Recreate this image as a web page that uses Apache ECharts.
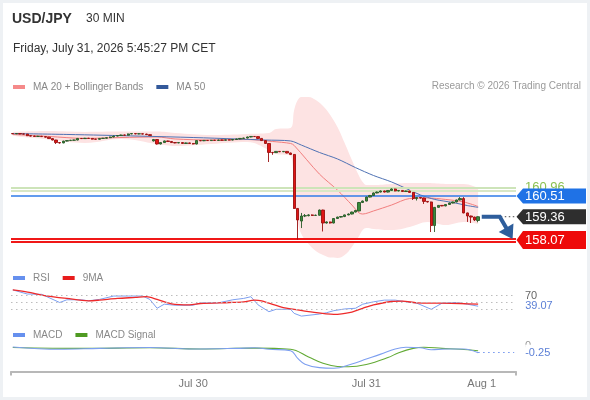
<!DOCTYPE html>
<html><head><meta charset="utf-8">
<script src="https://cdn.jsdelivr.net/npm/echarts@6/dist/echarts.min.js"></script>
<style>
html,body{margin:0;padding:0;background:#fff;}
#c{position:absolute;left:0;top:0;width:590px;height:400px;}
#frame{position:absolute;left:0;top:0;width:590px;height:400px;box-sizing:border-box;border-style:solid;border-color:#eef1f4;border-width:3px 3px 3.5px 3px;pointer-events:none;}
</style></head><body>
<div id="c"></div><div id="frame"></div>
<script>
// ---------------- DATA ----------------
const titleText = 'USD/JPY';
const timeframeText = '30 MIN';
const dateText = 'Friday, July 31, 2026 5:45:27 PM CET';
const creditText = 'Research \u00A9 2026 Trading Central';

const slotCount = 140;                      // half-hour slots on the axis
const tickIndex = [50, 98, 130];
const tickLabels = ['Jul 30', 'Jul 31', 'Aug 1'];

const opens = [
163.98,163.97,163.98,163.96,163.95,163.86,163.84,163.82,163.83,163.81,
163.78,163.70,163.62,163.48,163.46,163.56,163.59,163.61,163.62,163.71,
163.70,163.72,163.71,163.67,163.66,163.71,163.72,163.75,163.79,163.84,
163.87,163.90,163.89,163.96,163.98,163.96,163.97,163.95,163.92,163.57,
163.65,163.40,163.48,163.57,163.54,163.48,163.46,163.48,163.43,163.46,
163.43,163.40,163.59,163.58,163.60,163.59,163.61,163.60,163.62,163.61,
163.63,163.62,163.65,163.68,163.71,163.73,163.79,163.82,163.81,163.71,
163.59,163.43,162.93,162.92,162.99,162.97,162.99,162.90,162.82,159.82,
159.12,159.40,159.42,159.46,159.43,159.44,159.73,159.01,159.07,159.01,
159.26,159.34,159.37,159.46,159.51,159.62,159.68,160.15,160.23,160.45,
160.54,160.68,160.73,160.79,160.73,160.82,160.90,160.79,160.82,160.76,
160.79,160.71,160.37,160.43,160.40,160.21,160.18,158.87,159.88,159.99,
159.96,160.04,160.12,160.18,160.29,160.37,159.57,159.40,159.34,159.15];
const closes = [
163.97,163.98,163.96,163.95,163.86,163.84,163.82,163.83,163.81,163.78,
163.70,163.62,163.48,163.46,163.56,163.59,163.61,163.62,163.71,163.70,
163.72,163.71,163.67,163.66,163.71,163.72,163.75,163.79,163.84,163.87,
163.90,163.89,163.96,163.98,163.96,163.97,163.95,163.92,163.87,163.65,
163.40,163.48,163.57,163.54,163.48,163.46,163.48,163.43,163.46,163.43,
163.40,163.59,163.58,163.60,163.59,163.61,163.60,163.62,163.61,163.63,
163.62,163.65,163.68,163.71,163.73,163.79,163.82,163.81,163.71,163.59,
163.43,162.93,162.92,162.99,162.97,162.99,162.90,162.82,159.82,159.18,
159.40,159.42,159.46,159.43,159.44,159.73,159.01,159.07,159.01,159.26,
159.34,159.37,159.46,159.51,159.62,159.71,160.15,160.23,160.45,160.54,
160.68,160.73,160.79,160.73,160.82,160.90,160.79,160.82,160.76,160.79,
160.71,160.37,160.43,160.40,160.21,160.18,158.87,159.88,159.99,159.96,
160.04,160.12,160.18,160.29,160.37,159.57,159.40,159.34,159.18,159.36];
const lows = [
163.95,163.95,163.94,163.93,163.84,163.82,163.80,163.80,163.79,163.76,
163.68,163.60,163.40,163.42,163.44,163.54,163.57,163.59,163.60,163.68,
163.68,163.69,163.65,163.64,163.64,163.69,163.70,163.73,163.77,163.82,
163.85,163.87,163.87,163.94,163.94,163.94,163.93,163.90,163.85,163.54,
163.37,163.38,163.46,163.52,163.46,163.44,163.44,163.41,163.41,163.41,
163.38,163.38,163.56,163.56,163.57,163.57,163.58,163.58,163.59,163.59,
163.60,163.60,163.63,163.66,163.69,163.71,163.77,163.79,163.69,163.57,
163.40,162.40,162.80,162.90,162.95,162.95,162.88,162.79,159.79,158.09,
158.73,159.34,159.38,159.40,159.40,159.42,158.54,158.98,158.98,158.99,
159.24,159.31,159.34,159.44,159.49,159.60,159.66,160.12,160.21,160.43,
160.52,160.66,160.71,160.71,160.71,160.80,160.77,160.77,160.74,160.74,
160.69,160.29,160.26,160.37,160.07,160.15,158.51,158.51,159.86,159.94,
159.94,160.02,160.10,160.16,160.27,159.55,159.07,159.01,159.12,159.05];
const highs = [
164.00,164.00,164.00,163.98,163.96,163.88,163.86,163.85,163.85,163.83,
163.80,163.72,163.63,163.50,163.58,163.61,163.63,163.64,163.73,163.73,
163.74,163.74,163.73,163.69,163.73,163.74,163.77,163.81,163.86,163.89,
163.92,163.92,163.98,164.00,164.00,163.99,163.99,163.97,163.94,163.68,
163.66,163.50,163.59,163.59,163.56,163.50,163.50,163.50,163.48,163.48,
163.45,163.61,163.61,163.62,163.62,163.63,163.63,163.64,163.64,163.65,
163.65,163.67,163.70,163.73,163.75,163.81,163.84,163.84,163.83,163.72,
163.61,163.45,162.96,163.01,163.01,163.01,163.01,162.92,162.84,159.84,
159.57,159.51,159.50,159.49,159.48,159.76,159.75,159.10,159.09,159.28,
159.36,159.40,159.48,159.54,159.64,159.73,160.18,160.26,160.48,160.57,
160.71,160.76,160.82,160.81,160.84,160.93,160.92,160.84,160.84,160.81,
160.81,160.73,160.45,160.45,160.42,160.23,160.20,159.90,160.01,160.01,
160.06,160.14,160.20,160.31,160.45,160.45,159.59,159.42,159.36,159.38];

// [slot, value] readings of the indicator lines
const ma20 = [[0,163.93],[10,163.82],[20,163.71],[30,163.76],[40,163.79],[45,163.68],[55,163.62],[65,163.65],[72,163.54],[77,163.43],[78,163.32],[85,161.73],[90,160.84],[94,160.01],[96,159.57],[97,159.51],[100,159.68],[105,160.01],[110,160.37],[115,160.40],[120,160.32],[125,160.18],[129,159.93]];
const ma50 = [[0,163.98],[15,163.93],[35,163.84],[50,163.76],[62,163.68],[70,163.62],[77,163.57],[80,163.34],[85,162.93],[90,162.57],[95,162.09],[100,161.65],[105,161.29],[110,160.84],[113,160.57],[117,160.32],[122,160.15],[126,159.98],[129,159.88]];
const bbSlots = [0,10,20,30,40,45,55,65,71,73,77,78,79,80,82,84,86,88,90,92,94,96,97,98,100,105,110,115,120,125,129];
const bbUpper = [164.07,164.12,164.07,164.09,164.09,164.01,163.90,163.96,164.01,164.23,164.29,165.29,165.84,166.01,166.01,165.84,165.51,165.01,164.34,163.45,162.51,161.62,161.29,161.12,161.12,161.18,161.23,161.23,161.18,161.18,160.96];
const bbLower = [163.84,163.65,163.46,163.68,163.40,163.29,163.40,163.51,163.07,162.84,162.73,160.57,159.07,158.40,157.84,157.45,157.23,157.09,157.07,157.23,157.68,158.29,158.62,158.73,158.68,158.62,158.79,159.07,158.90,159.07,158.96];

const rsi = [[0,87],[4,75],[8,74],[13,50],[15,58],[19,58],[21,55],[24,59],[28,69],[32,69],[36,69],[38,59],[40,33],[42,45],[45,42],[50,42],[52,49],[57,49],[61,58],[64,62],[66,67],[67,55],[68,43],[71,23],[73,30],[77,30],[78,18],[80,10],[85,16],[87,20],[89,26],[92,31],[95,33],[97,45],[100,52],[103,57],[106,57],[109,52],[112,48],[116,30],[119,48],[123,50],[126,45],[129,39.07]];
const rsiMa = [[0,87],[5,79],[8,72],[15,62],[21,55],[24,57],[29,62],[34,65],[37,67],[40,59],[44,46],[49,43],[52,47],[60,50],[64,52],[67,57],[69,55],[71,48],[75,35],[78,30],[82,23],[89,15],[94,22],[97,33],[100,43],[105,53],[108,54],[112,49],[119,48],[124,47],[129,45]];
const rsiLevels = [70, 50, 30];
const macd = [[0,-0.05],[13,-0.13],[24,-0.10],[38,-0.07],[50,-0.12],[62,-0.10],[67,-0.08],[71,-0.13],[77,-0.18],[79,-0.45],[81,-0.65],[85,-0.77],[89,-0.79],[94,-0.64],[98,-0.47],[102,-0.30],[106,-0.12],[109,-0.06],[113,-0.08],[116,-0.15],[120,-0.12],[125,-0.12],[129,-0.25]];
const macdSignal = [[0,-0.07],[20,-0.10],[38,-0.08],[52,-0.12],[67,-0.09],[77,-0.13],[82,-0.40],[86,-0.62],[90,-0.73],[93,-0.74],[98,-0.66],[104,-0.42],[107,-0.25],[111,-0.10],[114,-0.06],[119,-0.10],[124,-0.13],[129,-0.18]];

const resistanceLevels = [160.96, 160.81];
const pivotLevel = 160.51;
const targetLevel = 158.07;
const tagValues = [160.51, 159.36, 158.07];

// ---------------- STYLE / BUILD ----------------
const FONT = '"Liberation Sans", Arial, Helvetica, sans-serif';
const tagFill = ['#1f72e6', '#2e2e2e', '#ee0a0a'];
const tagHeight = [15, 15, 18];
const HIDDEN = 'rgba(0,0,0,0)';
const categories = Array.from({length: slotCount}, (_, i) => 's' + i);
const labelAt = {};
tickIndex.forEach((k, j) => { labelAt[k] = tickLabels[j]; });
const candles = opens.map((o, i) => [o, closes[i], lows[i], highs[i]]);
const lastIdx = closes.length - 1;
const lastClose = closes[lastIdx];
const bbBase = bbSlots.map((s, i) => [s, bbLower[i]]);
const bbWidth = bbSlots.map((s, i) => [s, +(bbUpper[i] - bbLower[i]).toFixed(4)]);
const lastRsi = rsi[rsi.length - 1];
const lastMacd = macd[macd.length - 1];

const legendIcon = 'path://M0,0H12V4H0ZM15,0H15.01V0.01H15Z';
const legendCommon = {
  padding: 0, itemWidth: 15, itemHeight: 4, itemGap: 13, icon: legendIcon, selectedMode: false,
  textStyle: {color: '#888', fontSize: 10, fontFamily: FONT}
};

const chart = echarts.init(document.getElementById('c'), null, {renderer: 'canvas'});
const option = {
  animation: false,
  backgroundColor: '#fff',
  textStyle: {fontFamily: FONT},
  graphic: [
    {type: 'text', x: 12, y: 19, style: {text: titleText, font: 'bold 14px ' + FONT, fill: '#333', verticalAlign: 'middle'}},
    {type: 'text', x: 86, y: 19, style: {text: timeframeText, font: '12px ' + FONT, fill: '#333', verticalAlign: 'middle'}},
    {type: 'text', x: 13, y: 48.3, style: {text: dateText, font: '12px ' + FONT, fill: '#333', verticalAlign: 'middle'}},
    {type: 'text', x: 581, y: 86, style: {text: creditText, font: '10px ' + FONT, fill: '#9a9a9a', align: 'right', verticalAlign: 'middle'}}
  ],
  legend: [
    Object.assign({}, legendCommon, {data: ['MA 20 + Bollinger Bands', 'MA 50'], left: 13, top: 82}),
    Object.assign({}, legendCommon, {data: ['RSI', '9MA'], left: 13, top: 273}),
    Object.assign({}, legendCommon, {data: ['MACD', 'MACD Signal'], left: 13, top: 330})
  ],
  grid: [
    {left: 11, width: 505, top: 93.6, height: 165.6},
    {left: 11, width: 505, top: 285.5, height: 34},
    {left: 11, width: 505, top: 338.3, height: 33.1}
  ],
  xAxis: [0, 1, 2].map(g => ({
    type: 'category', gridIndex: g, data: categories, boundaryGap: true,
    axisLine: {show: g === 2, onZero: false, lineStyle: {color: '#b8b8b8', width: 2}},
    axisTick: {show: g === 2, length: 4, interval: (i) => i === 0, lineStyle: {color: '#b8b8b8', width: 2}},
    axisLabel: {show: g === 2, interval: 0, margin: 7, color: '#777', fontSize: 11, fontFamily: FONT,
      formatter: (v, i) => labelAt[i] || ''},
    splitLine: {show: false}
  })),
  yAxis: [
    {gridIndex: 0, type: 'value', min: 157, max: 166.2, show: false},
    {gridIndex: 1, type: 'value', min: 0, max: 100, show: false},
    {gridIndex: 2, type: 'value', min: -0.9, max: 0.25, show: false}
  ],
  series: [
    {type: 'line', name: 'bbBase', data: bbBase, stack: 'bb', smooth: 0.4, symbol: 'none', silent: true,
      lineStyle: {opacity: 0}, z: 1},
    {type: 'line', name: 'bbFill', data: bbWidth, stack: 'bb', smooth: 0.4, symbol: 'none', silent: true,
      lineStyle: {opacity: 0}, areaStyle: {color: '#fde3e3', opacity: 1}, z: 1},
    {type: 'line', name: 'MA 20 + Bollinger Bands', data: ma20, smooth: 0.3, symbol: 'none', color: '#f58a8a',
      lineStyle: {width: 1, color: '#f27e7e'}, z: 3},
    {type: 'line', name: 'MA 50', data: ma50, smooth: 0.3, symbol: 'none', color: '#33599a',
      lineStyle: {width: 1, color: '#4f72b4'}, z: 3,
      markLine: {
        silent: true, symbol: 'none', z: 4, animation: false, label: {show: false},
        data: [
          {yAxis: resistanceLevels[0], lineStyle: {color: '#cde4b9', width: 2, type: 'solid'},
            label: {show: true, position: 'end', distance: 9, formatter: '{c}', color: '#8cc152', fontSize: 13, fontFamily: FONT}},
          {yAxis: resistanceLevels[1], lineStyle: {color: '#d9e7c5', width: 2, type: 'solid'}},
          {yAxis: pivotLevel, lineStyle: {color: '#2f7be8', width: 1.5, type: 'solid'}},
          {yAxis: targetLevel, lineStyle: {color: '#f01818', width: 5, type: 'solid'}},
          {yAxis: targetLevel, lineStyle: {color: '#ffffff', width: 1.2, type: 'solid'}}
        ]
      }},
    {type: 'candlestick', name: 'USD/JPY', data: candles, barWidth: 2.8, z: 10,
      itemStyle: {color: '#3a8a3a', color0: '#e01515', borderColor: '#285a28', borderColor0: '#9a1010', borderWidth: 0.9}},
    {type: 'custom', name: 'tags', data: tagValues.map(v => [0, v]), z: 20, silent: true,
      renderItem: function (params, api) {
        const cs = params.coordSys;
        const right = cs.x + cs.width;
        const v = api.value(1);
        const y = api.coord([0, v])[1];
        const k = params.dataIndex;
        const h = tagHeight[k];
        return {type: 'group', children: [
          {type: 'polygon', shape: {points: [[right + 0.5, y], [right + 7, y - h / 2], [right + 70, y - h / 2], [right + 70, y + h / 2], [right + 7, y + h / 2]]},
            style: {fill: tagFill[k]}},
          {type: 'text', x: right + 9, y: y + 0.5, style: {text: v.toFixed(2), fill: '#fff', font: '13px ' + FONT, align: 'left', verticalAlign: 'middle'}}
        ]};
      }},
    {type: 'custom', name: 'arrow', data: [[lastIdx, lastClose, targetLevel]], z: 20, silent: true,
      renderItem: function (params, api) {
        const cs = params.coordSys;
        const right = cs.x + cs.width;
        const i0 = api.value(0);
        const p0 = api.coord([i0 + 1, api.value(1)]);
        const pb = api.coord([i0 + 6, api.value(1)]);
        const pt0 = api.coord([i0 + 9, api.value(2)]);
        const tip = [pt0[0] + 2, pt0[1] - 1];
        const dx = tip[0] - pb[0], dy = tip[1] - pb[1];
        const L = Math.sqrt(dx * dx + dy * dy);
        const ux = dx / L, uy = dy / L;
        const headLen = 13, halfW = 8.5;
        const bc = [tip[0] - ux * headLen, tip[1] - uy * headLen];
        const b1 = [bc[0] - uy * halfW, bc[1] + ux * halfW];
        const b2 = [bc[0] + uy * halfW, bc[1] - ux * halfW];
        return {type: 'group', children: [
          {type: 'line', shape: {x1: pb[0] + 1, y1: pb[1], x2: right, y2: pb[1]},
            style: {stroke: '#444', lineWidth: 1, lineDash: [1.5, 2.5]}},
          {type: 'polyline', shape: {points: [p0, pb, [bc[0] + ux, bc[1] + uy]]},
            style: {stroke: '#2e5e9c', lineWidth: 4, fill: null, lineJoin: 'miter'}},
          {type: 'polygon', shape: {points: [tip, b1, b2]}, style: {fill: '#2e5e9c'}}
        ]};
      }},
    {type: 'line', name: 'RSI', xAxisIndex: 1, yAxisIndex: 1, data: rsi, symbol: 'none', color: '#6690ee',
      lineStyle: {width: 1, color: '#7d9ff0'}, z: 3,
      markLine: {
        silent: true, symbol: 'none', animation: false,
        lineStyle: {type: [1.5, 3.5], color: '#bdbdbd', width: 1},
        label: {show: false},
        data: [
          {yAxis: rsiLevels[0], label: {show: true, position: 'end', distance: 9, formatter: '{c}', color: '#666', fontSize: 11, fontFamily: FONT}},
          {yAxis: rsiLevels[1]},
          {yAxis: rsiLevels[2]},
          [{coord: [lastRsi[0], lastRsi[1]], lineStyle: {color: HIDDEN, width: 0},
            label: {show: true, position: 'end', distance: 11, formatter: lastRsi[1].toFixed(2), color: '#5b7fd6', fontSize: 11, fontFamily: FONT}},
           {coord: [slotCount - 1, lastRsi[1]]}]
        ]
      }},
    {type: 'line', name: '9MA', xAxisIndex: 1, yAxisIndex: 1, data: rsiMa, symbol: 'none', smooth: 0.3, color: '#e81c1c',
      lineStyle: {width: 1.3, color: '#ee2a2a'}, z: 3},
    {type: 'line', name: 'MACD', xAxisIndex: 2, yAxisIndex: 2, data: macd, symbol: 'none', smooth: 0.4, color: '#6690ee',
      lineStyle: {width: 1.1, color: '#7d9ff0'}, z: 4,
      markLine: {
        silent: true, symbol: 'none', animation: false,
        label: {show: false},
        data: [
          {yAxis: 0, lineStyle: {color: HIDDEN, width: 0},
            label: {show: true, position: 'end', distance: 9, formatter: '0', color: '#999', fontSize: 11, fontFamily: FONT}},
          [{coord: [lastMacd[0], lastMacd[1]], lineStyle: {type: [1.5, 3.5], color: '#6f93ee', width: 1},
            label: {show: true, position: 'end', distance: 11, formatter: lastMacd[1].toFixed(2), color: '#5b7fd6', fontSize: 11, fontFamily: FONT,
              backgroundColor: '#fff', padding: [4, 2, 1, 0]}},
           {coord: [slotCount - 1, lastMacd[1]]}]
        ]
      }},
    {type: 'line', name: 'MACD Signal', xAxisIndex: 2, yAxisIndex: 2, data: macdSignal, symbol: 'none', smooth: 0.4, color: '#4f9a22',
      lineStyle: {width: 1.1, color: '#62aa35'}, z: 3}
  ]
};
chart.setOption(option);
</script></body></html>
